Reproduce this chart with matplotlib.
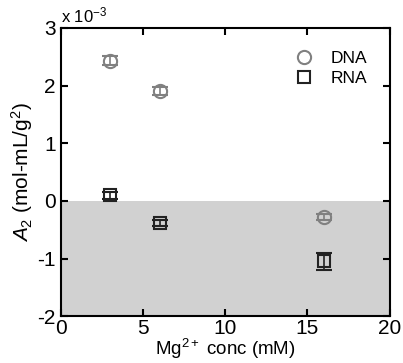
import matplotlib
matplotlib.use("Agg")
from matplotlib import pyplot as plt
from matplotlib.lines import Line2D

plt.rcParams['font.family'] = ['Liberation Sans', 'DejaVu Sans']
plt.rcParams['mathtext.fontset'] = 'custom'
plt.rcParams['mathtext.rm'] = 'Liberation Sans'
plt.rcParams['mathtext.it'] = 'Liberation Sans:italic'
plt.rcParams['axes.unicode_minus'] = False

# values in units of 1e-3 mol-mL/g^2
dna_mg = [3, 6, 16]
dna_a2 = [2.43, 1.90, -0.28]
dna_err = [0.08, 0.07, 0.06]

rna_mg = [3, 6, 16]
rna_a2 = [0.10, -0.38, -1.05]
rna_err = [0.06, 0.05, 0.15]

grey = '#808080'
dark = '#222222'

fig = plt.figure(figsize=(4.03, 3.63), dpi=100)
ax = fig.add_axes([0.151, 0.129, 0.816, 0.794])

ax.axhspan(-2, 0, color='#d1d1d1', zorder=0, lw=0)

ax.errorbar(dna_mg, dna_a2, yerr=dna_err, fmt='o', ms=9.5, mfc='none',
            mec=grey, mew=1.5, ecolor=grey, elinewidth=1.2, capsize=6)
ax.errorbar(rna_mg, rna_a2, yerr=rna_err, fmt='s', ms=8.5, mfc='none',
            mec=dark, mew=1.5, ecolor=dark, elinewidth=1.2, capsize=6)

ax.set_xlim(0, 20)
ax.set_ylim(-2, 3)
ax.set_xticks([0, 5, 10, 15, 20])
ax.set_yticks([-2, -1, 0, 1, 2, 3])
ax.tick_params(direction='in', top=True, right=True, labelsize=15,
               length=5, width=1.5)
ax.tick_params(axis='x', pad=2)
for s in ax.spines.values():
    s.set_linewidth(1.5)

ax.set_xlabel('Mg$^{2+}$ conc (mM)', fontsize=13.5, labelpad=-1)
ax.set_ylabel('$A_2$ (mol-mL/g$^2$)', fontsize=15, labelpad=2)
ax.text(0.0, 1.01, r'x 10$^{-3}$', transform=ax.transAxes, fontsize=12,
        ha='left', va='bottom')

handles = [Line2D([], [], ls='none', marker='o', ms=9.5, mfc='none',
                  mec=grey, mew=1.5),
           Line2D([], [], ls='none', marker='s', ms=8.5, mfc='none',
                  mec=dark, mew=1.5)]
ax.legend(handles, ['DNA', 'RNA'], loc='upper right', frameon=False,
          fontsize=12.5, handletextpad=0.8, borderaxespad=0.9,
          labelspacing=0.3, handlelength=1.5)

fig.savefig('out.png', dpi=100)
